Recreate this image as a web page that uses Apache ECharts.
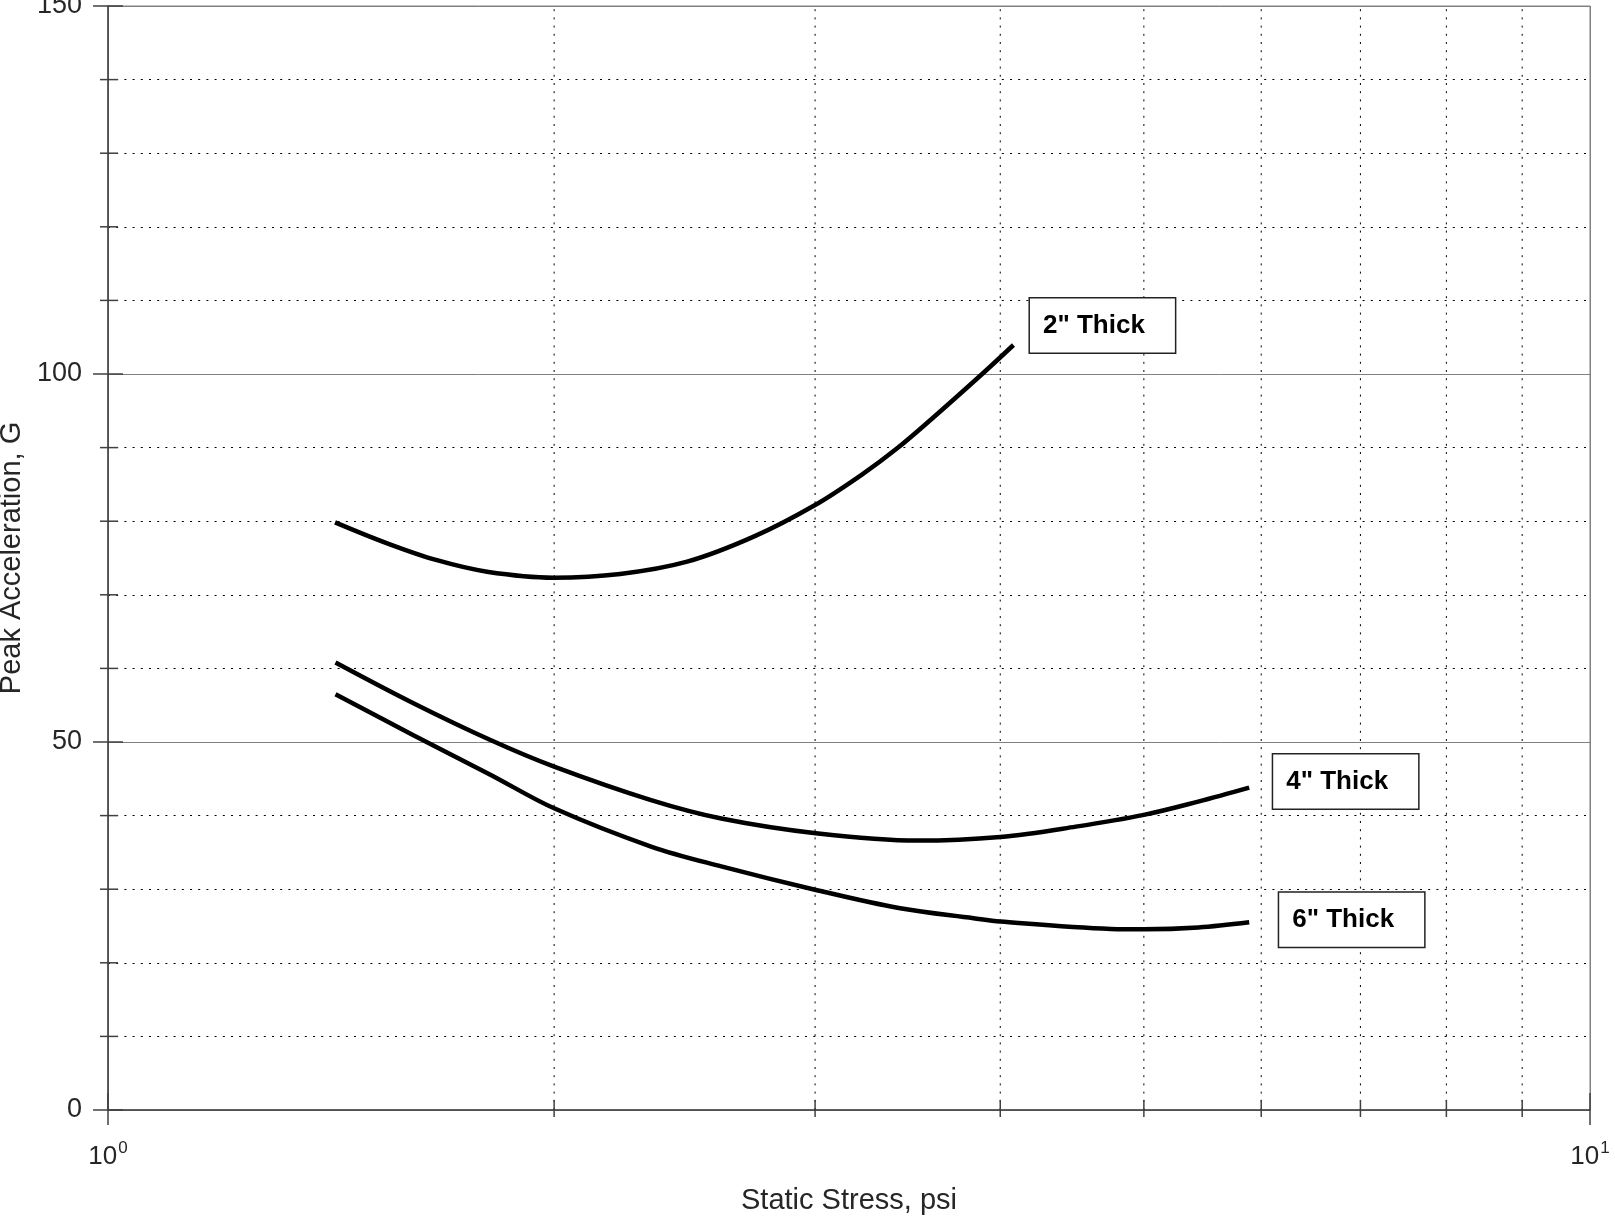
<!DOCTYPE html>
<html><head><meta charset="utf-8">
<script src="https://cdn.jsdelivr.net/npm/echarts@6/dist/echarts.min.js"></script>
<style>html,body{margin:0;padding:0;background:#fff}#c{width:1615px;height:1226px}</style>
</head><body><div id="c"></div>
<script>
// ---- data ----
const seriesNames = ['2" Thick', '4" Thick', '6" Thick'];

const stress2 = [1.423, 1.543, 1.667, 1.802, 1.998, 2.216, 2.459, 2.727, 3.0, 3.235, 3.408, 3.589, 3.889, 4.083];
const accel2  = [79.85, 77.0, 74.7, 73.14, 72.33, 72.83, 74.5, 77.9, 82.2, 86.5, 89.9, 93.75, 100.0, 103.94];

const stress4 = [1.424, 1.606, 1.81, 2.0, 2.325, 2.593, 3.004, 3.518, 4.0, 4.498, 5.0, 5.44, 5.889];
const accel4  = [60.8, 55.3, 50.3, 46.65, 42.1, 39.6, 37.6, 36.6, 37.1, 38.5, 40.1, 41.9, 43.8];

const stress6 = [1.424, 1.606, 1.81, 2.0, 2.325, 2.593, 3.004, 3.424, 3.838, 4.0, 4.749, 5.0, 5.441, 5.889];
const accel6  = [56.5, 50.95, 45.6, 40.99, 35.8, 33.1, 29.9, 27.4, 26.05, 25.6, 24.6, 24.55, 24.8, 25.5];

const xTickValues = [1, 2, 3, 4, 5, 6, 7, 8, 9, 10];
const xMajorTicks = [1, 10];
const yTickValues = [0, 10, 20, 30, 40, 50, 60, 70, 80, 90, 100, 110, 120, 130, 140, 150];
const yMajorTicks = [0, 50, 100, 150];
const xMin = 1, xMax = 10, yMin = 0, yMax = 150, yInterval = 50;

// ---- chart ----
const FONT = '"Liberation Sans", Arial, Helvetica, sans-serif';
const TXT = '#262626';
const chart = echarts.init(document.getElementById('c'), null, {renderer: 'canvas'});

function pairs(xs, ys) { return xs.map((x, i) => [x, ys[i]]); }

const boxLabel = {
  show: true,
  align: 'left',
  verticalAlign: 'middle',
  color: '#000',
  fontFamily: FONT,
  fontWeight: 'bold',
  fontSize: 26,
  lineHeight: 26,
  backgroundColor: '#fff',
  borderColor: '#222',
  borderWidth: 1.5,
  padding: [14, 30, 14, 13]
};

function curve(name, xs, ys, labelPos) {
  return {
    name: name,
    type: 'line',
    data: pairs(xs, ys),
    symbol: 'none',
    smooth: 0.35,
    lineStyle: {color: '#000', width: 4.5},
    z: 5,
    markPoint: {
      symbol: 'circle',
      symbolSize: 1,
      itemStyle: {color: 'rgba(0,0,0,0)'},
      data: [{coord: [xs[xs.length - 1], ys[ys.length - 1]], value: 0}],
      label: Object.assign({}, boxLabel, {position: labelPos, formatter: name})
    }
  };
}

const xTickSeries = {
  type: 'custom',
  data: xTickValues.map(v => [v, yMin]),
  silent: true,
  z: 1,
  renderItem: function (params, api) {
    const v = api.value(0);
    const b = api.coord([v, yMin]);
    const t = api.coord([v, yMax]);
    const major = xMajorTicks.indexOf(v) >= 0;
    const children = [];
    if (!major) {
      children.push({type: 'line', shape: {x1: b[0], y1: b[1], x2: t[0], y2: t[1]},
        style: {stroke: '#000', lineWidth: 1, lineDash: [2, 6.2]}});
    }
    children.push({type: 'line', shape: {x1: b[0], y1: b[1] - (major ? 17 : 10), x2: b[0], y2: b[1] + (major ? 15 : 7)},
      style: {stroke: '#404040', lineWidth: 1.5}});
    return {type: 'group', children: children};
  }
};

const yTickSeries = {
  type: 'custom',
  data: yTickValues.map(v => [xMin, v]),
  silent: true,
  z: 1,
  renderItem: function (params, api) {
    const v = api.value(1);
    const p = api.coord([xMin, v]);
    const major = yMajorTicks.indexOf(v) >= 0;
    return {type: 'line', shape: {x1: p[0] - (major ? 15 : 8), y1: p[1], x2: p[0] + (major ? 15 : 10), y2: p[1]},
      style: {stroke: '#404040', lineWidth: 1.5}};
  }
};

chart.setOption({
  animation: false,
  backgroundColor: '#fff',
  textStyle: {fontFamily: FONT},
  grid: {left: 108, right: 25, top: 6, bottom: 116, containLabel: false, outerBoundsMode: 'none',
         show: true, borderColor: '#808080', borderWidth: 1, backgroundColor: 'transparent'},
  xAxis: {
    type: 'log', logBase: 10, min: xMin, max: xMax,
    name: 'Static Stress, psi', nameLocation: 'middle', nameGap: 76,
    nameTextStyle: {fontSize: 29, color: TXT, fontFamily: FONT},
    axisLine: {show: true, onZero: false, lineStyle: {color: '#404040', width: 1.5}},
    axisTick: {show: false},
    minorTick: {show: false},
    splitLine: {show: true, lineStyle: {color: '#808080', width: 1}},
    axisLabel: {
      margin: 30, color: TXT, fontFamily: FONT,
      showMinLabel: true, showMaxLabel: true,
      formatter: function (v) { return '{b|10}{s|' + Math.round(Math.log10(v)) + '}'; },
      rich: {
        b: {fontSize: 26, color: TXT, fontFamily: FONT, lineHeight: 30, verticalAlign: 'bottom'},
        s: {fontSize: 17, color: TXT, fontFamily: FONT, lineHeight: 30, verticalAlign: 'top', padding: [0, 0, 0, 1]}
      }
    }
  },
  yAxis: {
    type: 'value', min: yMin, max: yMax, interval: yInterval,
    name: 'Peak Acceleration, G', nameLocation: 'middle', nameGap: 77,
    nameTextStyle: {fontSize: 29, color: TXT, fontFamily: FONT},
    axisLine: {show: true, lineStyle: {color: '#404040', width: 1.5}},
    axisTick: {show: false},
    axisLabel: {margin: 26, fontSize: 27, color: TXT, fontFamily: FONT},
    splitLine: {show: true, lineStyle: {color: '#808080', width: 1}},
    minorTick: {show: false, splitNumber: 5},
    minorSplitLine: {show: true, lineStyle: {color: '#000', width: 1, type: [2, 6.2]}}
  },
  series: [
    xTickSeries,
    yTickSeries,
    curve(seriesNames[0], stress2, accel2, [17, -19]),
    curve(seriesNames[1], stress4, accel4, [24.5, -5.7]),
    curve(seriesNames[2], stress6, accel6, [30.5, -2])
  ]
});
</script>
</body></html>
